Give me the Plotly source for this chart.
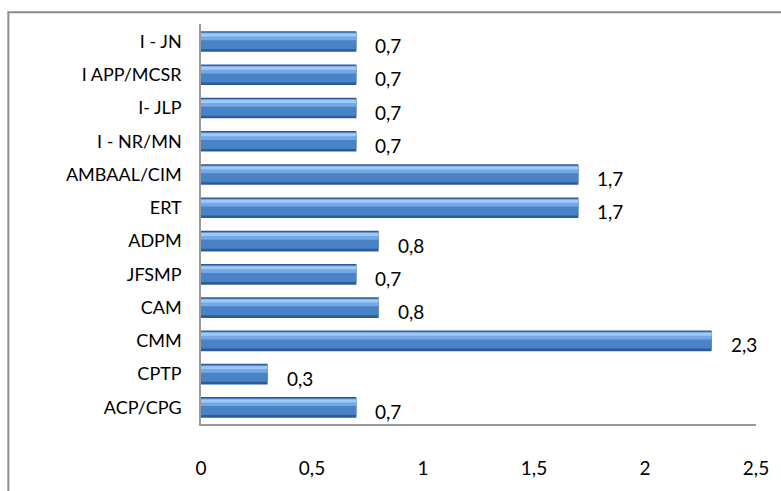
import plotly.graph_objects as go

categories = ["I - JN", "I APP/MCSR", "I- JLP", "I - NR/MN", "AMBAAL/CIM", "ERT",
              "ADPM", "JFSMP", "CAM", "CMM", "CPTP", "ACP/CPG"]
values = [0.7, 0.7, 0.7, 0.7, 1.7, 1.7, 0.8, 0.7, 0.8, 2.3, 0.3, 0.7]
tick_vals = [0, 0.5, 1, 1.5, 2, 2.5]

FONT = "Lato, Carlito, Calibri, sans-serif"

fig = go.Figure()
layers = [
    (0.62, -0.31, "#2c5b99"),
    (0.50, -0.27, "#4a82c8"),
    (0.22, -0.26, "#74a8e6"),
    (0.09, -0.24, "#a0c9f4"),
]
for w, off, col in layers:
    fig.add_trace(go.Bar(
        x=values, y=categories, orientation="h",
        width=w, offset=off, marker=dict(color=col, line=dict(width=0)),
        hoverinfo="skip", showlegend=False,
    ))

for c, v in zip(categories, values):
    fig.add_annotation(
        x=v, y=c, text=f"{v:.1f}".replace(".", ","), showarrow=False,
        xanchor="left", yanchor="middle", xshift=17, yshift=-4,
        font=dict(family=FONT, size=19, color="#000000"),
    )

fig.update_layout(
    width=781, height=491,
    margin=dict(l=201, r=24, t=24, b=60),
    paper_bgcolor="white", plot_bgcolor="white",
    barmode="overlay", separators=",.",
    font=dict(family=FONT, size=18, color="#000000"),
    xaxis=dict(range=[0, 2.5], tickvals=tick_vals, showgrid=False, zeroline=False,
               showline=True, linecolor="#9a9a9a", linewidth=1.5, ticks="",
               ticklabelstandoff=26, tickfont=dict(family=FONT, size=19)),
    yaxis=dict(categoryorder="array", categoryarray=categories, autorange="reversed",
               showgrid=False, zeroline=False, showline=True, linecolor="#9a9a9a",
               linewidth=1.5, ticks="", ticklabelstandoff=14,
               tickfont=dict(family=FONT, size=18)),
    shapes=[dict(type="rect", xref="paper", yref="paper",
                 x0=(8 - 201) / 556, x1=1.2, y0=-0.3, y1=(431 - 12) / 407,
                 line=dict(color="#8c8c8c", width=2), fillcolor="rgba(0,0,0,0)")],
)

fig.write_html("out.html", config={"displayModeBar": False},
               post_script="document.body.style.margin='0';")
